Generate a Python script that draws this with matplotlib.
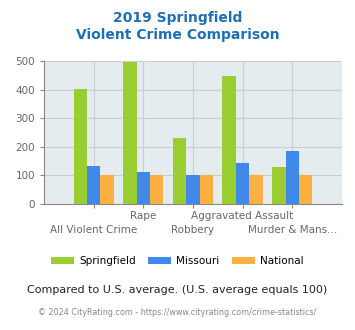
import numpy as np
import matplotlib
matplotlib.use('Agg')
import matplotlib.pyplot as plt

categories = ['All Violent Crime', 'Rape', 'Robbery', 'Aggravated Assault', 'Murder & Mans...']
springfield = [402, 497, 230, 447, 131]
missouri = [132, 111, 100, 142, 184]
national = [100, 100, 100, 100, 100]
series_names = ['Springfield', 'Missouri', 'National']
colors = ['#9acd32', '#4189e8', '#fbb040']

fig = plt.figure(figsize=(3.55, 3.30), dpi=100)
ax = fig.add_axes([0.124, 0.382, 0.839, 0.433])
ax.set_facecolor('#e5ecef')

x = np.arange(1, len(categories) + 1)
w = 0.27
for i, (vals, c, name) in enumerate(zip([springfield, missouri, national], colors, series_names)):
    ax.bar(x + (i - 1) * w, vals, w, color=c, label=name, zorder=3)

ax.set_xlim(0, 6)
ax.set_ylim(0, 500)
ax.set_yticks([0, 100, 200, 300, 400, 500])
ax.set_xticks(x)
ax.set_xticklabels([])
for xi, lab in zip(x, categories):
    dy = -0.085 if xi % 2 == 0 else -0.18
    ax.text(xi, dy, lab, transform=ax.get_xaxis_transform(), ha='center', va='center',
            fontsize=7.5, color='#666666')
ax.grid(True, color='#c8cfd2', lw=0.8, zorder=0)
for s in ['top', 'right']:
    ax.spines[s].set_visible(False)
for s in ['left', 'bottom']:
    ax.spines[s].set_color('#888888')
ax.tick_params(axis='both', colors='#888888', labelcolor='#666666', labelsize=7.5, length=3)

fig.text(0.5, 0.945, '2019 Springfield', ha='center', va='center', fontsize=10,
         fontweight='bold', color='#1f6fb5')
fig.text(0.5, 0.893, 'Violent Crime Comparison', ha='center', va='center', fontsize=10,
         fontweight='bold', color='#1f6fb5')

fig.legend(loc='center', bbox_to_anchor=(0.5, 0.209), ncol=3, frameon=False,
           fontsize=7.5, handlelength=2.2, handleheight=0.7, columnspacing=1.2,
           handletextpad=0.5)
fig.text(0.5, 0.121, 'Compared to U.S. average. (U.S. average equals 100)', ha='center',
         va='center', fontsize=8, color='#222222')
fig.text(0.5, 0.052, '\u00a9 2024 CityRating.com - https://www.cityrating.com/crime-statistics/',
         ha='center', va='center', fontsize=5.8, color='#888888')

fig.savefig('out.png', dpi=100)
